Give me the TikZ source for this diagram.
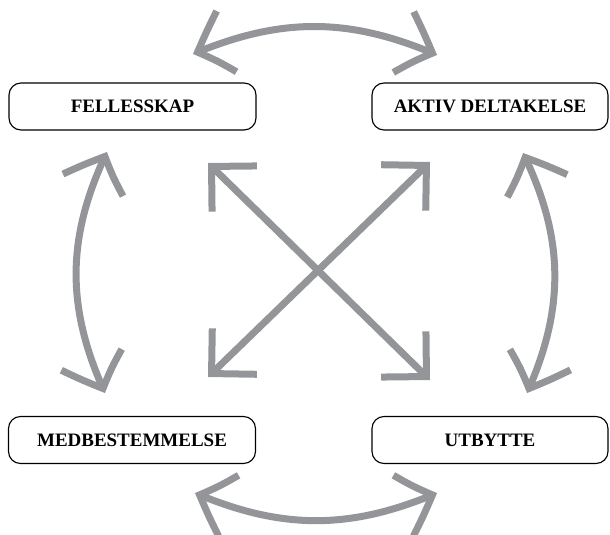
\documentclass[tikz,border=0pt]{standalone}
\usepackage{fontspec}
\setmainfont{Liberation Serif}
\usetikzlibrary{arrows.meta,bending,positioning}
\definecolor{arrowgray}{RGB}{148,149,153}
\tikzset{
  basic/.style = {draw, rectangle},
  box/.style = {basic, rounded corners=3mm, line width=0.8pt, minimum height=11.75mm,
    inner sep=0pt, font=\fontsize{13.5}{16}\selectfont\bfseries},
  wide box/.style = {box, minimum width=61.75mm},
  narrow box/.style = {box, minimum width=59mm},
  barb/.tip = {Straight Barb[length=8mm, width=16mm, bend]},
  link/.style = {draw=arrowgray, line width=1.75mm, barb-barb},
}

\begin{document}
\begin{tikzpicture}[x=0.25mm, y=0.25mm]
 \useasboundingbox (0,0) rectangle (610,534);

 % the four boxes
 \node[wide box] (fellesskap) at (132.5,427.5) {FELLESSKAP};
 \node[narrow box] (aktiv) at (490,427.5) {AKTIV DELTAKELSE};
 \node[wide box] (medbest) at (132,94) {MEDBESTEMMELSE};
 \node[narrow box] (utbytte) at (490,94) {UTBYTTE};

 % arrow ends
 \coordinate (top l) at (193,480);
 \coordinate (top r) at (437,479);
 \coordinate (bot l) at (195,41);
 \coordinate (bot r) at (437,41);
 \coordinate (left t) at (107,382);
 \coordinate (left b) at (105,141);
 \coordinate (right t) at (523,381);
 \coordinate (right b) at (527,141);
 \coordinate (diag tl) at (208,371);
 \coordinate (diag tr) at (430,372);
 \coordinate (diag bl) at (208,157);
 \coordinate (diag br) at (430,154);

 % curved links
 \draw[link] (top l) to[bend left=23] (top r);
 \draw[link] (bot l) to[bend right=23] (bot r);
 \draw[link] (left t) to[bend right=25] (left b);
 \draw[link] (right t) to[bend left=25] (right b);

 % cross
 \draw[link] (diag tl) -- (diag br);
 \draw[link] (diag tr) -- (diag bl);

\end{tikzpicture}
\end{document}
